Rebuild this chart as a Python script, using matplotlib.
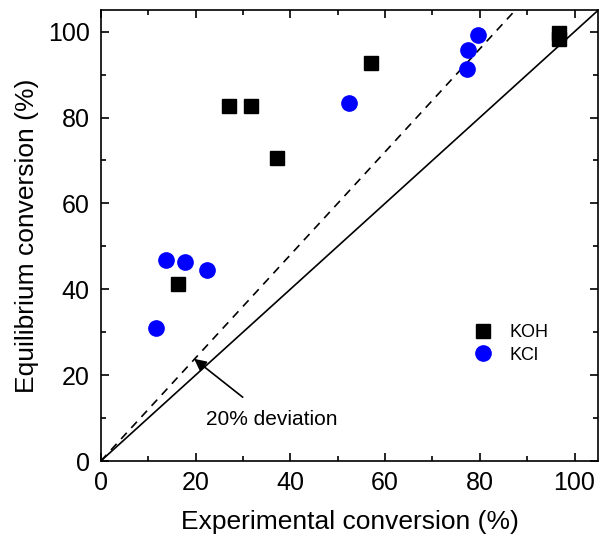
import matplotlib
matplotlib.use('Agg')
import matplotlib.pyplot as plt
from matplotlib.ticker import MultipleLocator

matplotlib.rcParams['font.family'] = ['Liberation Sans', 'DejaVu Sans']

# experimental vs equilibrium conversion (%)
koh_x = [16.2, 27.1, 31.8, 37.2, 57.1, 96.8, 96.8]
koh_y = [41.3, 82.8, 82.8, 70.5, 92.7, 99.6, 98.3]
kcl_x = [11.7, 13.7, 17.8, 22.5, 52.3, 77.2, 77.6, 79.6]
kcl_y = [31.0, 46.9, 46.3, 44.4, 83.4, 91.4, 95.8, 99.2]
lims = [0, 105]

fig = plt.figure(figsize=(6.0, 5.37), dpi=100)
ax = fig.add_axes([0.168, 0.1415, 0.829, 0.8395])

ax.plot(lims, lims, color='black', lw=1.2)
ax.plot([0, 105 / 1.2], [0, 105], color='black', lw=1.2, ls=(0, (5, 4)))

ax.plot(koh_x, koh_y, 's', color='black', ms=9.5, label='KOH', ls='none')
ax.plot(kcl_x, kcl_y, 'o', color='blue', ms=11, label='KCl', ls='none')

ax.annotate('20% deviation', xy=(19.7, 23.8), xytext=(36, 9.6),
            ha='center', va='center', fontsize=15,
            arrowprops=dict(arrowstyle='-|>', color='black', lw=1.2,
                            mutation_scale=18, shrinkA=12, shrinkB=0))

ax.set_xlim(lims)
ax.set_ylim(lims)
ax.xaxis.set_major_locator(MultipleLocator(20))
ax.yaxis.set_major_locator(MultipleLocator(20))
ax.xaxis.set_minor_locator(MultipleLocator(10))
ax.yaxis.set_minor_locator(MultipleLocator(10))
ax.tick_params(which='both', direction='in', top=True, right=True, width=1.2)
ax.tick_params(which='major', length=6, labelsize=18)
ax.tick_params(axis='x', which='major', pad=7)
ax.tick_params(axis='y', which='major', pad=8)
ax.tick_params(which='minor', length=3.5)
for s in ax.spines.values():
    s.set_linewidth(1.2)

ax.set_xlabel('Experimental conversion (%)', fontsize=19, labelpad=11)
ax.set_ylabel('Equilibrium conversion (%)', fontsize=19, labelpad=6)

ax.legend(loc='center left', bbox_to_anchor=(0.699, 0.26), frameon=False,
          fontsize=13, handletextpad=0.5, labelspacing=0.3)

fig.savefig('out.png', dpi=100)
